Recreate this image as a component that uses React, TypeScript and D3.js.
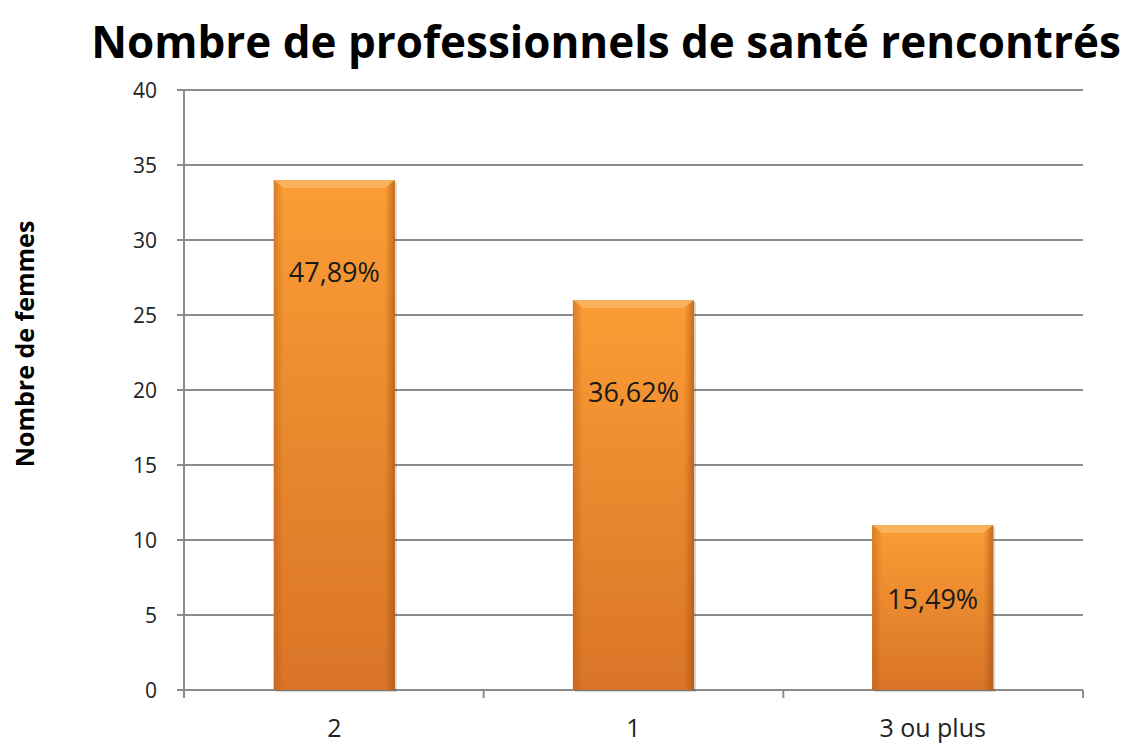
import * as d3 from 'd3';
import * as React from 'react';

const categories = ['2', '1', '3 ou plus'];
const counts = [34, 26, 11];
const shareLabels = ['47,89%', '36,62%', '15,49%'];
const yTicks = [0, 5, 10, 15, 20, 25, 30, 35, 40];

const W = 1135;
const H = 745;
const margin = { top: 90, right: 52, bottom: 55, left: 184 };

export default function App() {
  const x = d3
    .scaleBand<string>()
    .domain(categories)
    .range([margin.left, W - margin.right])
    .paddingInner(0.595)
    .paddingOuter(0.3);
  const y = d3.scaleLinear().domain([0, 40]).range([H - margin.bottom, margin.top]);

  const band = (W - margin.right - margin.left) / categories.length;
  const font = '"Open Sans", Lato, sans-serif';

  return (
    <svg width={W} height={H} style={{ position: 'absolute', left: 0, top: 0 }}>
      <defs>
        <linearGradient id="barFill" x1="0" y1="0" x2="0" y2="1">
          <stop offset="0%" stopColor="#fb9d35" />
          <stop offset="100%" stopColor="#d97427" />
        </linearGradient>
        <linearGradient id="edgeL" x1="0" y1="0" x2="1" y2="0">
          <stop offset="0%" stopColor="#b85a12" stopOpacity={0.5} />
          <stop offset="100%" stopColor="#b85a12" stopOpacity={0} />
        </linearGradient>
        <linearGradient id="edgeR" x1="1" y1="0" x2="0" y2="0">
          <stop offset="0%" stopColor="#a04c0c" stopOpacity={0.6} />
          <stop offset="100%" stopColor="#a04c0c" stopOpacity={0} />
        </linearGradient>
      </defs>
      <rect width={W} height={H} fill="#fff" />

      <text
        x={606}
        y={58}
        textAnchor="middle"
        fontFamily={font}
        fontWeight="bold"
        fontSize={44}
        fill="#000"
      >
        Nombre de professionnels de santé rencontrés
      </text>

      {/* gridlines */}
      {yTicks.map((t) => (
        <g key={t}>
          {t > 0 && (
            <line x1={margin.left} x2={W - margin.right} y1={y(t)} y2={y(t)} stroke="#8c8c8c" strokeWidth={2} />
          )}
          <line x1={margin.left - 7} x2={margin.left} y1={y(t)} y2={y(t)} stroke="#8c8c8c" strokeWidth={2} />
          <text
            x={157}
            y={y(t)}
            dy="0.36em"
            textAnchor="end"
            fontFamily={font}
            fontSize={21}
            fill="#222"
          >
            {t}
          </text>
        </g>
      ))}

      {/* axes */}
      <line x1={margin.left} x2={margin.left} y1={margin.top} y2={y(0)} stroke="#8c8c8c" strokeWidth={2} />
      <line x1={margin.left} x2={W - margin.right} y1={y(0)} y2={y(0)} stroke="#8c8c8c" strokeWidth={2} />
      {d3.range(categories.length + 1).map((i) => (
        <line
          key={i}
          x1={margin.left + band * i}
          x2={margin.left + band * i}
          y1={y(0)}
          y2={y(0) + 8}
          stroke="#8c8c8c"
          strokeWidth={2}
        />
      ))}

      {/* bars */}
      {categories.map((c, i) => {
        const bx = x(c)!;
        const bw = x.bandwidth();
        const top = y(counts[i]);
        const h = y(0) - top;
        const labelY = top + Math.min(92, h * 0.45);
        return (
          <g key={c}>
            <rect x={bx + 2} y={top + 2} width={bw} height={h} fill="#000" opacity={0.15} />
            <rect x={bx} y={top} width={bw} height={h} fill="url(#barFill)" />
            <rect x={bx} y={top} width={10} height={h} fill="url(#edgeL)" />
            <rect x={bx + bw - 10} y={top} width={10} height={h} fill="url(#edgeR)" />
            <polygon
              points={`${bx},${top} ${bx + bw},${top} ${bx + bw - 10},${top + 8} ${bx + 10},${top + 8}`}
              fill="#fdb867"
              opacity={0.8}
            />
            <text
              x={bx + bw / 2}
              y={labelY}
              dy="0.36em"
              textAnchor="middle"
              fontFamily={font}
              fontSize={27}
              fill="#1a1a1a"
            >
              {shareLabels[i]}
            </text>
            <text
              x={bx + bw / 2}
              y={y(0) + 47}
              textAnchor="middle"
              fontFamily={font}
              fontSize={25}
              fill="#222"
            >
              {c}
            </text>
          </g>
        );
      })}

      <text
        transform={`translate(34,344) rotate(-90)`}
        textAnchor="middle"
        fontFamily={font}
        fontWeight="bold"
        fontSize={25}
        fill="#000"
      >
        Nombre de femmes
      </text>
    </svg>
  );
}
